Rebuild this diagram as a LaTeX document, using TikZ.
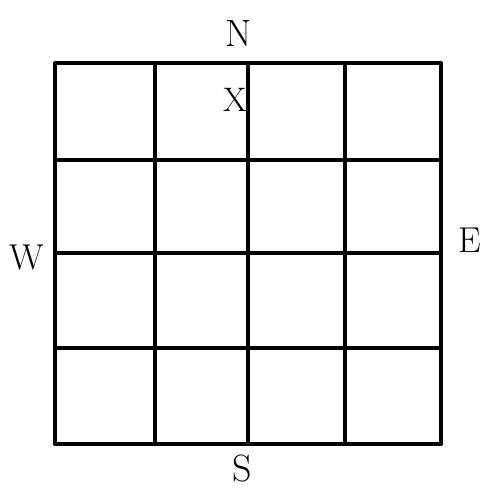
\documentclass[tikz,border=0pt]{standalone}
\begin{document}
\begin{tikzpicture}[x=1pt,y=-1pt,
  gridline/.style={line width=3.5pt,line cap=round,black},
  lbl/.style={font=\fontsize{38}{38}\selectfont,inner sep=0pt}]
\useasboundingbox (0,0) rectangle (493,492);
\fill[white] (0,0) rectangle (493,492);
% vertical lines
\foreach \x in {55,155,248,345,441} \draw[gridline] (\x,63) -- (\x,444);
% horizontal lines
\foreach \y in {63,160,253,348,444} \draw[gridline] (55,\y) -- (441,\y);
\node[lbl] (n) at (239,34) {N};
\node[lbl,font=\fontsize{34}{34}\selectfont] (x) at (235,100) {X};
\node[lbl,font=\fontsize{36}{36}\selectfont] (w) at (27,257) {W};
\node[lbl,font=\fontsize{36}{36}\selectfont] (e) at (470,240) {E};
\node[lbl] (s) at (242,469) {S};
\end{tikzpicture}
\end{document}
